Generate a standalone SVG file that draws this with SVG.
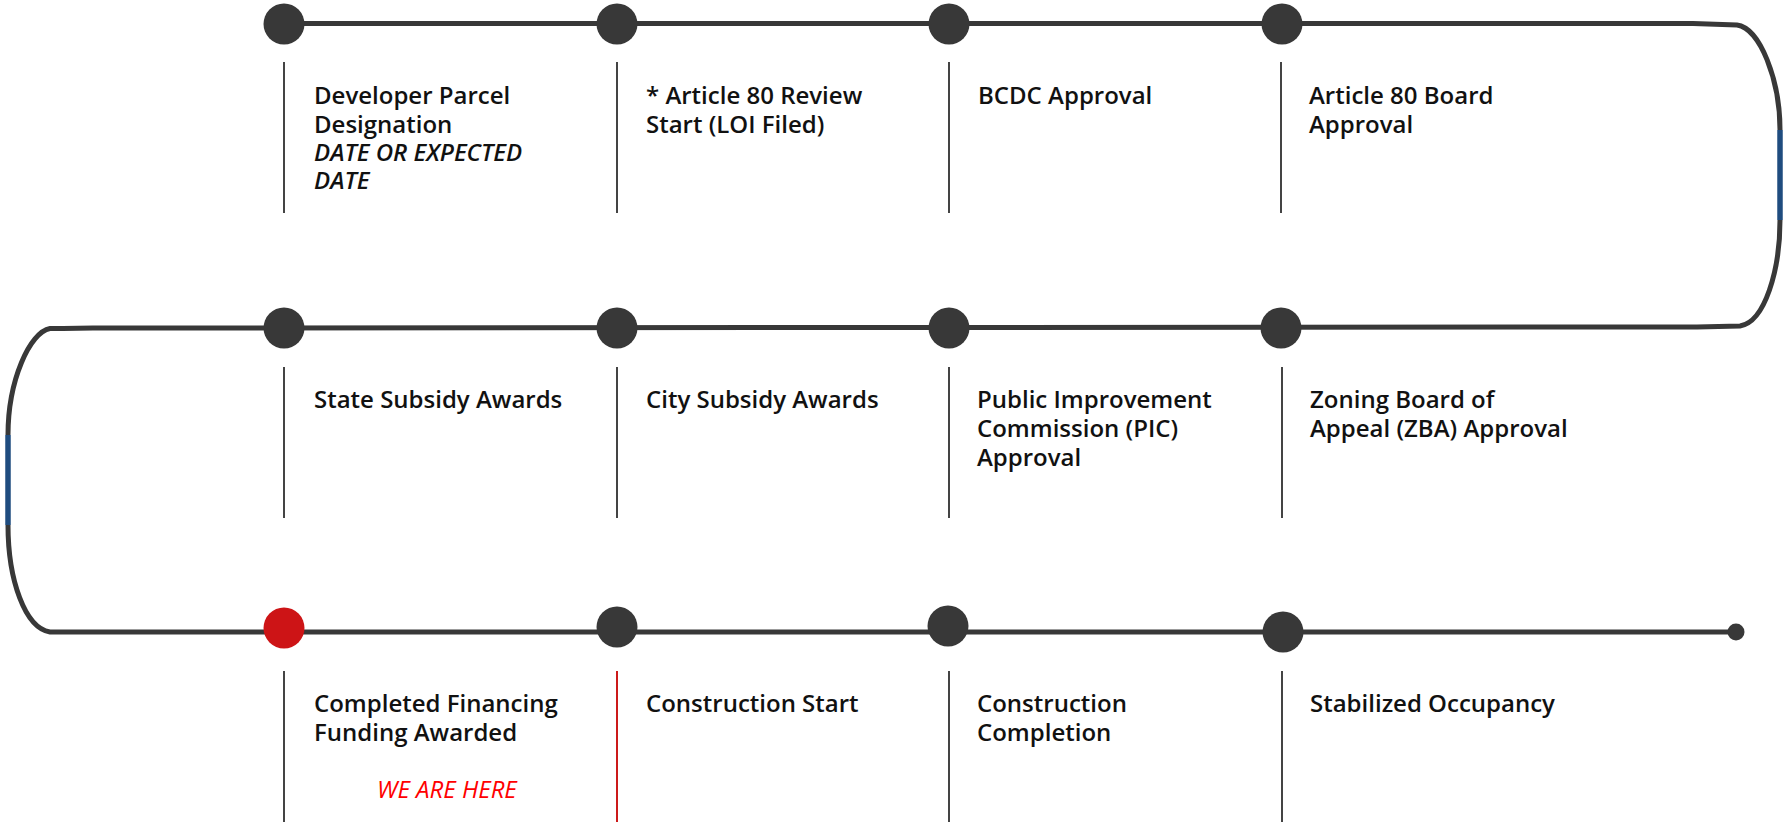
<svg xmlns="http://www.w3.org/2000/svg" width="1787" height="822" viewBox="0 0 1787 822">
<style>
.track{fill:none;stroke:#383838;stroke-width:5;stroke-linejoin:round}
.blue{fill:none;stroke:#1f4c7f;stroke-width:5.5}
.dot{fill:#383838}
.red{fill:#cd1416}
.tick{stroke:#444;stroke-width:2}
.tickred{stroke:#cc1a1a;stroke-width:2}
.lbl{font-family:"Open Sans","Noto Sans",sans-serif;font-weight:600;font-size:24px;fill:#111}
.it{font-style:italic;font-weight:600}
.here{font-family:"Open Sans","Noto Sans",sans-serif;font-style:italic;font-weight:400;font-size:24px;fill:#ff0000}
</style>
<rect width="1787" height="822" fill="#fff"/>
<g id="connectors">
<path class="track" d="M284,23.5 L1693,23.5 L1737,25 C1760,28 1780,80 1780,130"/>
<path class="blue" d="M1780,130 L1780,220"/>
<path class="track" d="M1780,220 C1780,270 1765,322 1740,326 L1697,327 L93,328 L63,328.5 L50,328.5 C30,332 8,380 8,435"/>
<path class="blue" d="M8,435 L8,525"/>
<path class="track" d="M8,525 C8,580 25,628 50,632 L1736,632"/>
</g>
<g id="node-1">
<circle class="dot" cx="284" cy="24" r="20.5"/>
<line class="tick" x1="284" y1="62" x2="284" y2="213"/>
<text class="lbl" x="314" y="104">Developer Parcel<tspan x="314" dy="29">Designation</tspan><tspan class="it" x="314" dy="28">DATE OR EXPECTED</tspan><tspan class="it" x="314" dy="28">DATE</tspan></text>
</g>
<g id="node-2">
<circle class="dot" cx="617" cy="24" r="20.5"/>
<line class="tick" x1="617" y1="62" x2="617" y2="213"/>
<text class="lbl" x="646" y="104">* Article 80 Review<tspan x="646" dy="29">Start (LOI Filed)</tspan></text>
</g>
<g id="node-3">
<circle class="dot" cx="949" cy="24" r="20.5"/>
<line class="tick" x1="949" y1="62" x2="949" y2="213"/>
<text class="lbl" x="978" y="104">BCDC Approval</text>
</g>
<g id="node-4">
<circle class="dot" cx="1282" cy="24" r="20.5"/>
<line class="tick" x1="1281" y1="62" x2="1281" y2="213"/>
<text class="lbl" x="1309" y="104">Article 80 Board<tspan x="1309" dy="29">Approval</tspan></text>
</g>
<g id="node-5">
<circle class="dot" cx="284" cy="328" r="20.5"/>
<line class="tick" x1="284" y1="367" x2="284" y2="518"/>
<text class="lbl" x="314" y="408">State Subsidy Awards</text>
</g>
<g id="node-6">
<circle class="dot" cx="617" cy="328" r="20.5"/>
<line class="tick" x1="617" y1="367" x2="617" y2="518"/>
<text class="lbl" x="646" y="408">City Subsidy Awards</text>
</g>
<g id="node-7">
<circle class="dot" cx="949" cy="328" r="20.5"/>
<line class="tick" x1="949" y1="367" x2="949" y2="518"/>
<text class="lbl" x="977" y="408">Public Improvement<tspan x="977" dy="29">Commission (PIC)</tspan><tspan x="977" dy="29">Approval</tspan></text>
</g>
<g id="node-8">
<circle class="dot" cx="1281" cy="328" r="20.5"/>
<line class="tick" x1="1282" y1="367" x2="1282" y2="518"/>
<text class="lbl" x="1310" y="408">Zoning Board of<tspan x="1310" dy="29">Appeal (ZBA) Approval</tspan></text>
</g>
<g id="node-9">
<circle class="red" cx="284" cy="628" r="20.5"/>
<line class="tick" x1="284" y1="671" x2="284" y2="822"/>
<text class="lbl" x="314" y="712">Completed Financing<tspan x="314" dy="29">Funding Awarded</tspan></text>
<text class="here" x="377" y="798">WE ARE HERE</text>
</g>
<g id="node-10">
<circle class="dot" cx="617" cy="627" r="20.5"/>
<line class="tickred" x1="617" y1="671" x2="617" y2="822"/>
<text class="lbl" x="646" y="712">Construction Start</text>
</g>
<g id="node-11">
<circle class="dot" cx="948" cy="626" r="20.5"/>
<line class="tick" x1="949" y1="671" x2="949" y2="822"/>
<text class="lbl" x="977" y="712">Construction<tspan x="977" dy="29">Completion</tspan></text>
</g>
<g id="node-12">
<circle class="dot" cx="1283" cy="632" r="20.5"/>
<line class="tick" x1="1282" y1="671" x2="1282" y2="822"/>
<text class="lbl" x="1310" y="712">Stabilized Occupancy</text>
</g>
<g id="end">
<circle class="dot" cx="1736" cy="632" r="8.5"/>
</g>
</svg>
